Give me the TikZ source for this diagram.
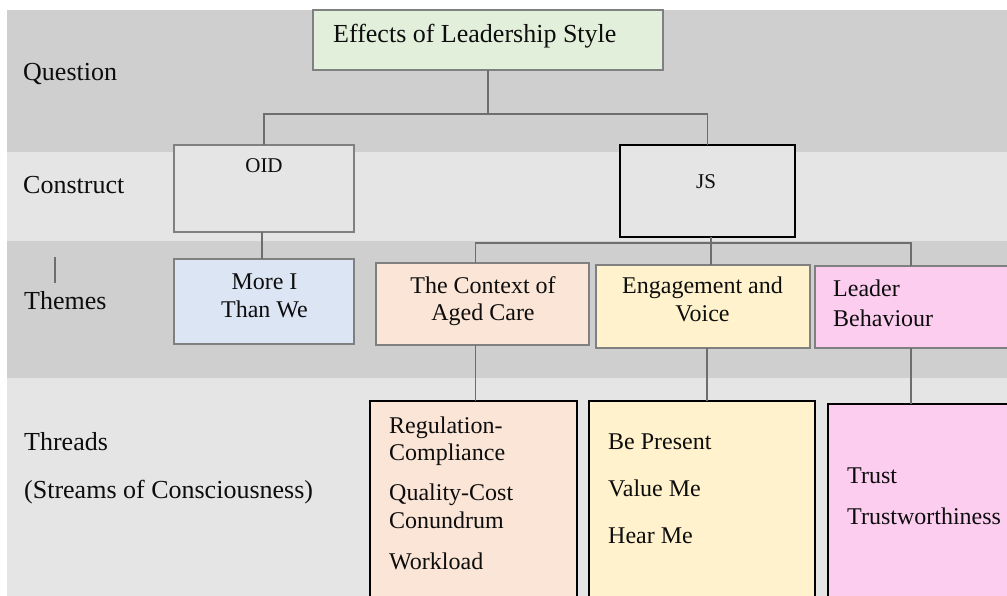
\documentclass[tikz,border=0pt]{standalone}
\usepackage{fontspec}
\setmainfont{Liberation Serif}
\definecolor{bandD}{HTML}{D0CFD0}
\definecolor{bandL}{HTML}{E6E5E6}
\definecolor{greenF}{HTML}{E2EFDA}
\definecolor{blueF}{HTML}{DCE5F4}
\definecolor{peachF}{HTML}{FBE5D6}
\definecolor{yellowF}{HTML}{FFF2CC}
\definecolor{pinkF}{HTML}{FDCDF0}
\definecolor{lineG}{HTML}{6E6E6E}
\definecolor{boxG}{HTML}{808080}
\definecolor{txtC}{HTML}{0D0D0D}
\tikzset{
  box/.style={draw=boxG, line width=1.4pt, inner sep=0pt, outer sep=0pt, anchor=north west},
  thickbox/.style={draw=black, line width=2.8pt, inner sep=0pt, outer sep=0pt, anchor=north west},
  conn/.style={draw=lineG, line width=1.4pt},
  lbl/.style={font=\fontsize{26pt}{30pt}\selectfont, text=txtC, inner sep=0pt, anchor=base west},
  btxt/.style={font=\fontsize{24pt}{28pt}\selectfont, text=txtC, inner sep=0pt},
  stxt/.style={font=\fontsize{21pt}{24pt}\selectfont, text=txtC, inner sep=0pt, anchor=base},
}
\newcommand{\bx}[7]{% style, name, fill, x1, y1, x2, y2
  \pgfmathsetmacro{\bw}{#6-#4}\pgfmathsetmacro{\bh}{#7-#5}%
  \node[#1, fill=#3, minimum width=\bw pt, minimum height=\bh pt] (#2) at (#4,#5) {};}
\begin{document}
\begin{tikzpicture}[x=1pt,y=-1pt]
\useasboundingbox (0,0) rectangle (1007,596);
\fill[white] (0,0) rectangle (1007,596);
% bands
\fill[bandD] (7,10) rectangle (1007,152);
\fill[bandL] (7,152) rectangle (1007,241);
\fill[bandD] (7,241) rectangle (1007,378);
\fill[bandL] (7,378) rectangle (1007,596);
% row labels
\node[lbl] (lq) at (23,81) {Question};
\node[lbl] (lc) at (23,194) {Construct};
\node[lbl] (lt) at (24,309) {Themes};
\node[lbl] (lth) at (24,450) {Threads};
\node[lbl] (ls) at (24,498) {(Streams of Consciousness)};
\coordinate (tk1) at (55,257);
\coordinate (tk2) at (55,283);
\draw[draw=lineG, line width=1.2pt] (tk1) -- (tk2);
% boxes
\bx{box}{top}{greenF}{313}{10}{663}{70}
\bx{box}{oid}{bandL}{174}{145}{354}{232}
\bx{thickbox}{js}{bandL}{620}{145}{795}{237}
\bx{box}{more}{blueF}{174}{259}{354}{344}
\bx{box}{ctx}{peachF}{376}{263}{589}{345}
\bx{box}{eng}{yellowF}{596}{265}{810}{348}
\bx{box}{lead}{pinkF}{815}{266}{1015}{348}
\bx{thickbox}{ctxT}{peachF}{370}{401}{577}{605}
\bx{thickbox}{engT}{yellowF}{589}{401}{815}{605}
\bx{thickbox}{leadT}{pinkF}{828}{404}{1015}{605}
% box texts
\node[lbl] (topT) at (333,43) {Effects of Leadership Style};
\node[stxt] (oidT) at (264,173) {OID};
\node[stxt] (jsT) at (706,189) {JS};
\node[btxt, anchor=base] (more1) at (264.5,289) {More I};
\node[btxt, anchor=base] (more2) at (264.5,317) {Than We};
\node[btxt, anchor=base] (ctx1) at (483,293) {The Context of};
\node[btxt, anchor=base] (ctx2) at (483,320) {Aged Care};
\node[btxt, anchor=base] (eng1) at (702.5,293) {Engagement and};
\node[btxt, anchor=base] (eng2) at (702.5,321) {Voice};
\node[btxt, anchor=base west] (lead1) at (833,297) {Leader};
\node[btxt, anchor=base west] (lead2) at (833,326) {Behaviour};
\node[btxt, anchor=base west] (t1) at (389,433) {Regulation-};
\node[btxt, anchor=base west] (t2) at (389,460) {Compliance};
\node[btxt, anchor=base west] (t3) at (389,500) {Quality-Cost};
\node[btxt, anchor=base west] (t4) at (389,528) {Conundrum};
\node[btxt, anchor=base west] (t5) at (389,569) {Workload};
\node[btxt, anchor=base west] (e1) at (608,449) {Be Present};
\node[btxt, anchor=base west] (e2) at (608,496) {Value Me};
\node[btxt, anchor=base west] (e3) at (608,543) {Hear Me};
\node[btxt, anchor=base west] (l1) at (847,483) {Trust};
\node[btxt, anchor=base west] (l2) at (847,524) {Trustworthiness};
% connectors
\draw[conn] (top.south) -- ++(0,44) coordinate (qj);
\draw[conn] (oid.north) |- (qj) -| (js.north);
\draw[conn] ([xshift=-2pt]oid.south) -- ([xshift=-2pt]more.north);
\draw[conn] ([xshift=3.5pt]js.south) -- ++(0,6) coordinate (jb);
\draw[conn] ([xshift=-7pt]ctx.north) |- (jb) -| ([xshift=-4pt]lead.north);
\draw[conn] (jb) -- (jb |- eng.north);
\draw[conn] ([xshift=-7pt]ctx.south) -- ([xshift=-7pt]ctx.south |- ctxT.north);
\draw[conn] ([xshift=4pt]eng.south) -- ([xshift=4pt]eng.south |- engT.north);
\draw[conn] ([xshift=-4pt]lead.south) -- ([xshift=-4pt]lead.south |- leadT.north);
\end{tikzpicture}
\end{document}
